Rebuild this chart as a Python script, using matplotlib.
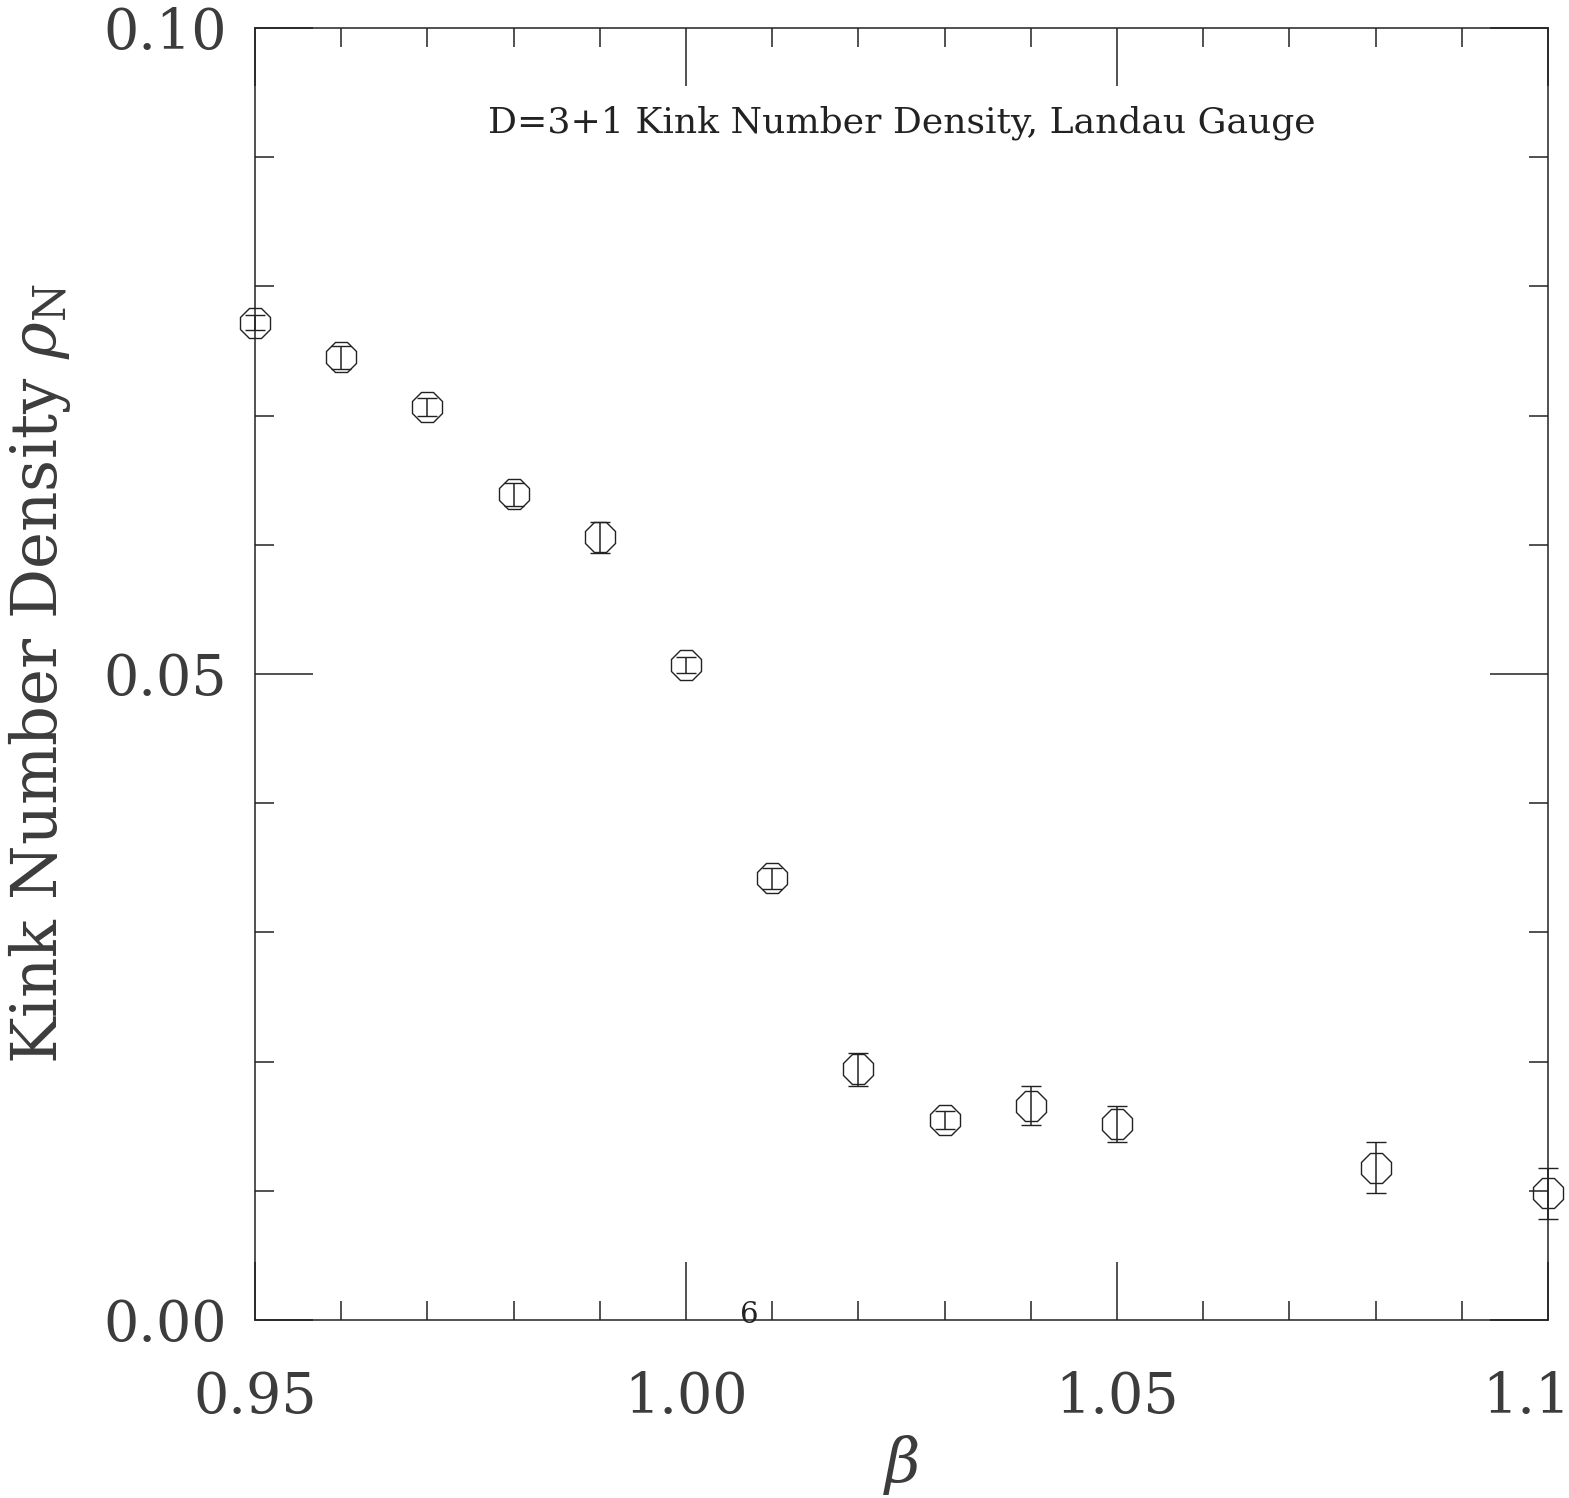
import matplotlib

matplotlib.use("Agg", force=True)
import matplotlib.pyplot as plt
from matplotlib.ticker import FixedLocator, MultipleLocator

# kink number density vs beta
beta = [0.95, 0.96, 0.97, 0.98, 0.99, 1.00, 1.01, 1.02, 1.03, 1.04, 1.05, 1.08, 1.10]
rho_n = [0.0772, 0.0745, 0.0707, 0.0639, 0.0606, 0.0507, 0.0342, 0.0194, 0.0155, 0.0166, 0.0152, 0.0118, 0.0098]
rho_err = [0.0006, 0.0009, 0.0007, 0.0009, 0.0012, 0.0006, 0.0008, 0.0013, 0.0007, 0.0015, 0.0014, 0.0020, 0.0020]

x_major = [0.95, 1.00, 1.05, 1.10]
x_labels = ["0.95", "1.00", "1.05", ""]
last_x_label = "1.1"  # the original is cut at the page edge
y_major = [0.00, 0.05, 0.10]
y_labels = ["0.00", "0.05", "0.10"]

title = "D=3+1 Kink Number Density, Landau Gauge"
label_font = "DejaVu Serif"
ink = "#222222"
soft = "#3c3c3c"

plt.rcParams["mathtext.fontset"] = "dejavuserif"

fig = plt.figure(figsize=(15.69, 14.98), dpi=100)
ax = fig.add_axes([0.1625, 0.1188, 0.8241, 0.8625])

ax.errorbar(
    beta, rho_n, yerr=rho_err, fmt="8", color=ink, mfc="none", mec=ink,
    ms=23, mew=1.0, elinewidth=1.1, capsize=7, capthick=1.1, clip_on=False,
)

ax.set_xlim(0.95, 1.10)
ax.set_ylim(0.0, 0.10)
ax.xaxis.set_major_locator(FixedLocator(x_major))
ax.xaxis.set_minor_locator(MultipleLocator(0.01))
ax.yaxis.set_major_locator(FixedLocator(y_major))
ax.yaxis.set_minor_locator(MultipleLocator(0.01))
ax.set_xticklabels(x_labels)
ax.set_yticklabels(y_labels)
ax.tick_params(which="both", direction="in", top=True, right=True, color=ink, width=1.1)
ax.tick_params(which="major", length=42, labelsize=40, labelcolor=soft)
ax.tick_params(which="minor", length=14)
ax.tick_params(axis="x", which="major", pad=36)
ax.tick_params(axis="y", which="major", pad=20)
for lab in ax.get_xticklabels() + ax.get_yticklabels():
    lab.set_family(label_font)
for side in ax.spines.values():
    side.set_linewidth(1.1)
    side.set_color(ink)

ax.annotate(last_x_label, xy=(1.10, 0), xycoords=("data", "axes fraction"),
            xytext=(-47, -36), textcoords="offset points", ha="left", va="top",
            family=label_font, fontsize=40, color=soft)

ax.text(0.5, 0.927, title, transform=ax.transAxes, ha="center", va="center",
        family=label_font, fontsize=26, color=ink)
ax.text(1.0074, 0.0004, "6", ha="center", va="center", family=label_font, fontsize=21, color=ink)

ax.set_ylabel(r"Kink Number Density $\rho_{\rm N}$", family=label_font, fontsize=45,
              color=soft, labelpad=22)
ax.set_xlabel(r"$\beta$", fontsize=44, color=soft, labelpad=6)

fig.savefig("out.png", dpi=100)
